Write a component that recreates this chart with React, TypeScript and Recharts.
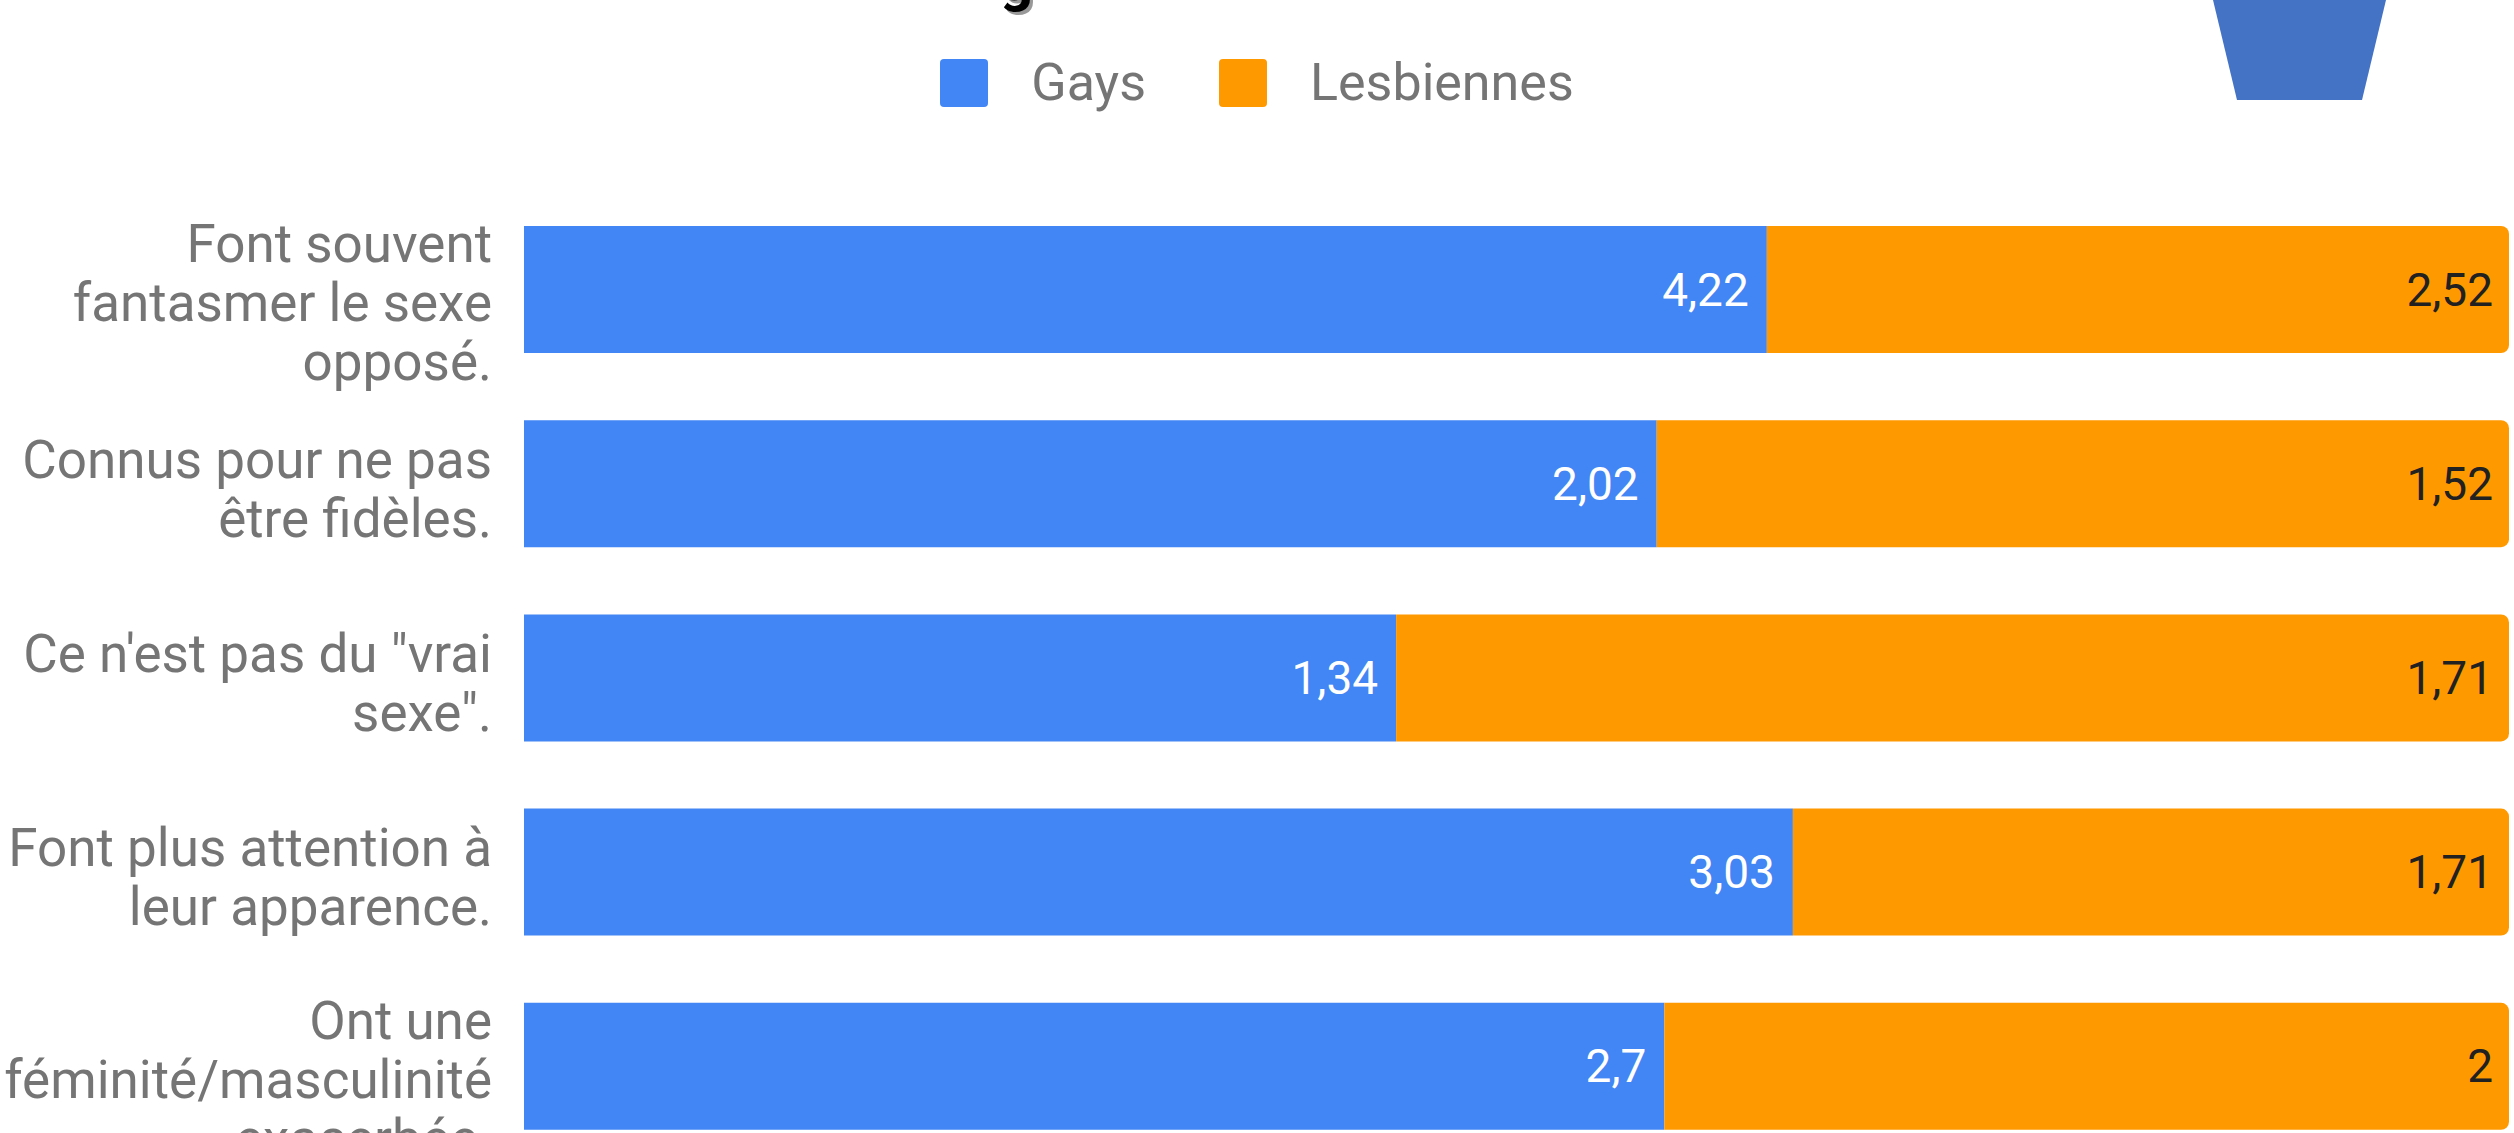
import React from "react";
import { BarChart, Bar, XAxis, YAxis, Legend, LabelList } from "recharts";

const categories = [
  "Font souvent fantasmer le sexe opposé.",
  "Connus pour ne pas être fidèles.",
  "Ce n'est pas du \"vrai sexe\".",
  "Font plus attention à leur apparence.",
  "Ont une féminité/masculinité exacerbée.",
];
const categoryLines = [
  ["Font souvent", "fantasmer le sexe", "opposé."],
  ["Connus pour ne pas", "être fidèles."],
  ["Ce n'est pas du \"vrai", "sexe\"."],
  ["Font plus attention à", "leur apparence."],
  ["Ont une", "féminité/masculinité", "exacerbée."],
];
const gays = [4.22, 2.02, 1.34, 3.03, 2.7];
const lesbiennes = [2.52, 1.52, 1.71, 1.71, 2];
const seriesNames = ["Gays", "Lesbiennes"];
const colors = ["#4285F4", "#FF9900"];

const data = categories.map((c, i) => ({ cat: c, gays: gays[i], lesbiennes: lesbiennes[i] }));

const FONT = "Roboto, 'Noto Sans', sans-serif";
const fmt = (v: number) => String(v).replace(".", ",");

// vertical nudge of each wrapped tick label block (layout only)
const tickShift = [14, 6, 6, 6, 14];

const CatTick = (props: any) => {
  const { x, y, payload } = props;
  const idx = categories.indexOf(payload.value);
  const lines = categoryLines[idx] || [payload.value];
  const lh = 59;
  const start = -((lines.length - 1) / 2) * lh + (tickShift[idx] || 0);
  return (
    <g>
      {lines.map((l, i) => (
        <text
          key={i}
          x={x}
          y={y + start + i * lh}
          textAnchor="end"
          dominantBaseline="central"
          fontFamily={FONT}
          fontSize={53}
          fill="#757575"
        >
          {l}
        </text>
      ))}
    </g>
  );
};

const makeLabel = (values: number[], color: string, pad: number) => (props: any) => {
  const { x, y, width, height, index } = props;
  return (
    <text
      x={x + width - pad}
      y={y + height / 2}
      textAnchor="end"
      dominantBaseline="central"
      fontFamily={FONT}
      fontSize={46}
      fill={color}
    >
      {fmt(values[index])}
    </text>
  );
};

const LegendContent = () => (
  <div
    style={{
      display: "flex",
      justifyContent: "center",
      alignItems: "center",
      fontFamily: FONT,
      fontSize: 52,
      color: "#757575",
      height: 48,
    }}
  >
    {seriesNames.map((n, i) => (
      <div key={n} style={{ display: "flex", alignItems: "center", marginLeft: i === 0 ? 0 : 73 }}>
        <div style={{ width: 48, height: 48, borderRadius: 4, background: colors[i], marginRight: 43 }} />
        <span style={{ lineHeight: "48px" }}>{n}</span>
      </div>
    ))}
  </div>
);

export default function App() {
  return (
    <div style={{ position: "relative", width: 2514, height: 1133, overflow: "hidden", background: "#fff" }}>
      <style>{`body{margin:0;}`}</style>
      <BarChart
        width={2514}
        height={1200}
        data={data}
        layout="vertical"
        stackOffset="expand"
        margin={{ top: 192, right: 5, bottom: 37, left: 0 }}
      >
        <XAxis type="number" hide domain={[0, 1]} />
        <YAxis
          type="category"
          dataKey="cat"
          width={524}
          axisLine={false}
          tickLine={false}
          tickSize={0}
          tickMargin={32}
          tick={<CatTick />}
          interval={0}
        />
        <Legend
          layout="horizontal"
          verticalAlign="middle"
          align="center"
          content={<LegendContent />}
          wrapperStyle={{ top: 59, left: 0, width: 2514, height: 48 }}
        />
        <Bar dataKey="gays" name={seriesNames[0]} stackId="a" fill={colors[0]} barSize={127} isAnimationActive={false}>
          <LabelList dataKey="gays" content={makeLabel(gays, "#ffffff", 18)} />
        </Bar>
        <Bar
          dataKey="lesbiennes"
          name={seriesNames[1]}
          stackId="a"
          fill={colors[1]}
          barSize={127}
          radius={[0, 8, 8, 0]}
          isAnimationActive={false}
        >
          <LabelList dataKey="lesbiennes" content={makeLabel(lesbiennes, "#212121", 16)} />
        </Bar>
      </BarChart>
      <svg
        width={2514}
        height={160}
        style={{ position: "absolute", left: 0, top: 0, pointerEvents: "none" }}
      >
        <polygon points="2213,0 2386,0 2362,100 2237,100" fill="#4472C4" />
        <text x={1000} y={0} fontFamily={FONT} fontWeight={700} fontSize={58} fill="#999" dx={3} dy={3}>g</text>
        <text x={1000} y={0} fontFamily={FONT} fontWeight={700} fontSize={58} fill="#000">g</text>
      </svg>
    </div>
  );
}
